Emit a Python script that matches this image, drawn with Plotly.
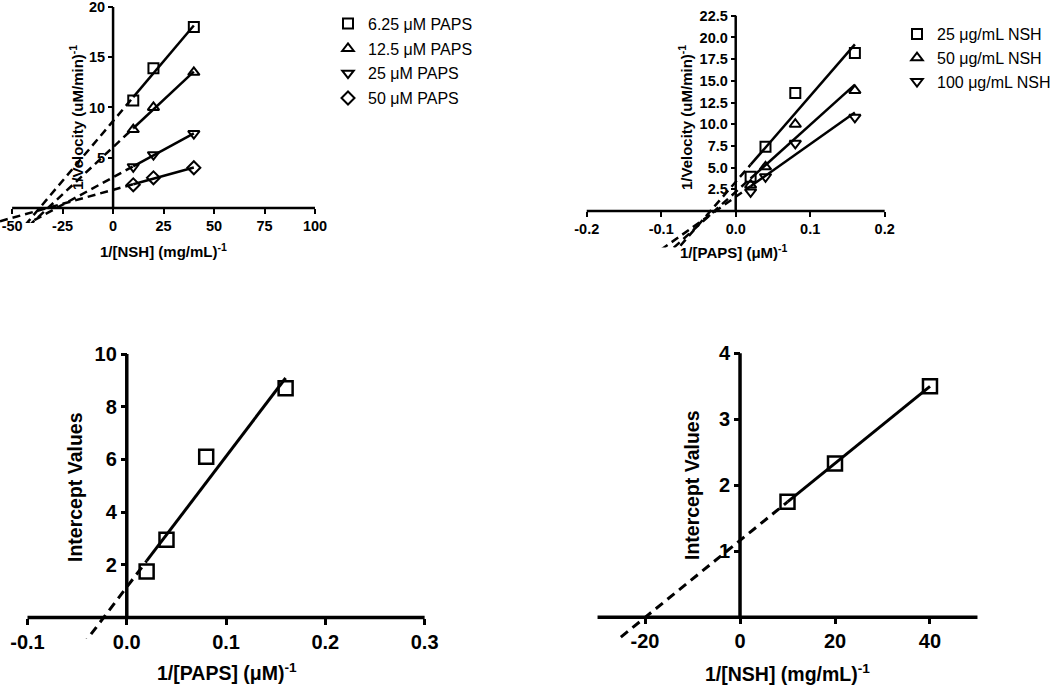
import numpy as np
import plotly.graph_objects as go

W, H = 1050, 691
FONT = "Liberation Sans, Arial, sans-serif"

# ---------------- data ----------------
# Panel A: 1/velocity vs 1/[NSH] at several PAPS concentrations
nsh_inv = [10, 20, 40]
a_labels = ["6.25 μM PAPS", "12.5 μM PAPS", "25 μM PAPS", "50 μM PAPS"]
a_vals = [
    [10.7, 13.9, 18.0],
    [7.8, 10.0, 13.5],
    [4.1, 5.3, 7.4],
    [2.3, 3.0, 4.0],
]
a_symbols = ["square-open", "triangle-up-open", "triangle-down-open", "diamond-open"]

# Panel B: 1/velocity vs 1/[PAPS] at several NSH concentrations
paps_inv = [0.02, 0.04, 0.08, 0.16]
b_labels = ["25 μg/mL NSH", "50 μg/mL NSH", "100 μg/mL NSH"]
b_vals = [
    [3.95, 7.4, 13.6, 18.2],
    [3.0, 5.1, 10.0, 13.9],
    [2.2, 3.95, 7.8, 10.8],
]
b_symbols = ["square-open", "triangle-up-open", "triangle-down-open"]

# Panel C: intercepts vs 1/[PAPS]
c_x = [0.02, 0.04, 0.08, 0.16]
c_y = [1.75, 2.95, 6.1, 8.7]

# Panel D: intercepts vs 1/[NSH]
d_x = [10, 20, 40]
d_y = [1.75, 2.33, 3.5]

# tick values / labels
a_xticks = [-50, -25, 0, 25, 50, 75, 100]
a_yticks = [5, 10, 15, 20]
b_xticks = [-0.2, -0.1, 0.0, 0.1, 0.2]
b_xtext = ["-0.2", "-0.1", "0.0", "0.1", "0.2"]
b_yticks = [2.5, 5.0, 7.5, 10.0, 12.5, 15.0, 17.5, 20.0, 22.5]
b_ytext = ["2.5", "5.0", "7.5", "10.0", "12.5", "15.0", "17.5", "20.0", "22.5"]
c_xticks = [-0.1, 0.0, 0.1, 0.2, 0.3]
c_xtext = ["-0.1", "0.0", "0.1", "0.2", "0.3"]
c_yticks = [2, 4, 6, 8, 10]
d_xticks = [-20, 0, 20, 40]
d_yticks = [1, 2, 3, 4]

# ---------------- geometry (pixels) ----------------
panels = {
    1: dict(xr=[-56, 101], yr=[-1.5, 20.3], px=[0, 317], py=[223, 4],
            xline=[-50, 100], yline=[0, 20], lw=2.5, tl=5, tw=2, tf=14.5,
            xt=a_xticks, xtt=[str(v) for v in a_xticks], yt=a_yticks, ytt=[str(v) for v in a_yticks]),
    2: dict(xr=[-0.201, 0.205], yr=[-4.2, 22.7], px=[586, 888.4], py=[247.5, 14],
            xline=[-0.2, 0.2], yline=[0, 22.5], lw=2.5, tl=5, tw=2, tf=14.5,
            xt=b_xticks, xtt=b_xtext, yt=b_yticks, ytt=b_ytext),
    3: dict(xr=[-0.1005, 0.302], yr=[-0.8, 10.1], px=[27, 426.6], py=[638.6, 351.4],
            xline=[-0.1, 0.3], yline=[0, 10], lw=3.5, tl=6, tw=3, tf=20,
            xt=c_xticks, xtt=c_xtext, yt=c_yticks, ytt=[str(v) for v in c_yticks]),
    4: dict(xr=[-30.2, 50.3], yr=[-0.33, 4.05], px=[596.6, 978.9], py=[639.1, 350],
            xline=[-30, 50], yline=[0, 4], lw=3.5, tl=6, tw=3, tf=20,
            xt=d_xticks, xtt=[str(v) for v in d_xticks], yt=d_yticks, ytt=[str(v) for v in d_yticks]),
}

fig = go.Figure()
layout = {}
shapes = []


def ref(i):
    return ("x" if i == 1 else f"x{i}"), ("y" if i == 1 else f"y{i}")


for i, s in panels.items():
    (xr0, xr1), (yr0, yr1) = s["xr"], s["yr"]
    (px0, px1), (py0, py1) = s["px"], s["py"]
    zero_px = px0 + (0 - xr0) / (xr1 - xr0) * (px1 - px0)
    zero_py = py0 + (0 - yr0) / (yr1 - yr0) * (py1 - py0)
    xn = "xaxis" if i == 1 else f"xaxis{i}"
    yn = "yaxis" if i == 1 else f"yaxis{i}"
    xref, yref = ref(i)
    tickfont = dict(family=FONT, size=s["tf"], color="black", weight="bold")
    layout[xn] = dict(domain=[px0 / W, px1 / W], range=s["xr"], anchor="free",
                      position=1 - zero_py / H, showgrid=False, zeroline=False,
                      showline=False, ticks="outside", ticklen=s["tl"], tickwidth=s["tw"],
                      tickcolor="black", tickvals=s["xt"], ticktext=s["xtt"],
                      tickfont=tickfont, fixedrange=True, automargin=False,
                      ticklabeloverflow="allow")
    layout[yn] = dict(domain=[1 - py0 / H, 1 - py1 / H], range=s["yr"], anchor="free",
                      position=zero_px / W, showgrid=False, zeroline=False,
                      showline=False, ticks="outside", ticklen=s["tl"], tickwidth=s["tw"],
                      tickcolor="black", tickvals=s["yt"], ticktext=s["ytt"],
                      tickfont=tickfont, fixedrange=True, automargin=False,
                      ticklabeloverflow="allow")
    shapes.append(dict(type="line", xref=xref, yref=yref, x0=s["xline"][0], x1=s["xline"][1],
                       y0=0, y1=0, line=dict(color="black", width=s["lw"])))
    shapes.append(dict(type="line", xref=xref, yref=yref, x0=0, x1=0,
                       y0=s["yline"][0], y1=s["yline"][1], line=dict(color="black", width=s["lw"])))


def add_fit(i, xs, ys, xmin, lw, dash):
    xref, yref = ref(i)
    m, b = np.polyfit(np.array(xs, float), np.array(ys, float), 1)
    xa, xb = min(xs), max(xs)
    fig.add_trace(go.Scatter(x=[xa, xb], y=[m * xa + b, m * xb + b], mode="lines",
                             line=dict(color="black", width=lw), showlegend=False,
                             hoverinfo="skip", xaxis=xref, yaxis=yref))
    fig.add_trace(go.Scatter(x=[xmin, xa], y=[m * xmin + b, m * xa + b], mode="lines",
                             line=dict(color="black", width=lw, dash=dash), showlegend=False,
                             hoverinfo="skip", xaxis=xref, yaxis=yref))


# Panel A
for vals in a_vals:
    add_fit(1, nsh_inv, vals, -56, 2.5, "8px,5px")
for lab, vals, sym in zip(a_labels, a_vals, a_symbols):
    fig.add_trace(go.Scatter(x=nsh_inv, y=vals, mode="markers", name=lab,
                             marker=dict(symbol=sym, size=10, color="black",
                                         line=dict(color="black", width=2)),
                             legend="legend", legendgroup=lab, xaxis="x", yaxis="y"))

# Panel B
for vals in b_vals:
    add_fit(2, paps_inv, vals, -0.2, 2.5, "8px,5px")
for lab, vals, sym in zip(b_labels, b_vals, b_symbols):
    fig.add_trace(go.Scatter(x=paps_inv, y=vals, mode="markers", name=lab,
                             marker=dict(symbol=sym, size=10, color="black",
                                         line=dict(color="black", width=2)),
                             legend="legend2", legendgroup=lab, xaxis="x2", yaxis="y2"))

# Panel C
add_fit(3, c_x, c_y, -0.1, 3, "9px,6px")
fig.add_trace(go.Scatter(x=c_x, y=c_y, mode="markers", showlegend=False,
                         marker=dict(symbol="square-open", size=14, color="black",
                                     line=dict(color="black", width=2.5)),
                         xaxis="x3", yaxis="y3"))

# Panel D
add_fit(4, d_x, d_y, -30, 3, "9px,6px")
fig.add_trace(go.Scatter(x=d_x, y=d_y, mode="markers", showlegend=False,
                         marker=dict(symbol="square-open", size=14, color="black",
                                     line=dict(color="black", width=2.5)),
                         xaxis="x4", yaxis="y4"))


# axis titles
def title(text, xpx, ypx, size, angle=0):
    return dict(text=text, x=xpx / W, y=1 - ypx / H, xref="paper", yref="paper",
                xanchor="center", yanchor="middle", showarrow=False, textangle=angle,
                font=dict(family=FONT, size=size, color="black", weight="bold"))


annotations = [
    title("1/Velocity (uM/min)<sup>-1</sup>", 76, 118, 15, -90),
    title("1/[NSH] (mg/mL)<sup>-1</sup>", 163, 250, 15),
    title("1/Velocity (uM/min)<sup>-1</sup>", 685, 118, 15, -90),
    title("1/[PAPS] (μM)<sup>-1</sup>", 734, 251, 15),
    title("Intercept Values", 75, 487, 19.5, -90),
    title("1/[PAPS] (μM)<sup>-1</sup>", 227, 672, 19.5),
    title("Intercept Values", 692, 485, 19.5, -90),
    title("1/[NSH] (mg/mL)<sup>-1</sup>", 787, 673, 19.5),
]

legend_common = dict(font=dict(family=FONT, size=16, color="black"), bgcolor="rgba(0,0,0,0)",
                     borderwidth=0, xanchor="left", yanchor="top",
                     itemclick=False, itemdoubleclick=False)

fig.update_layout(
    width=W, height=H,
    margin=dict(l=0, r=0, t=0, b=0, autoexpand=False),
    paper_bgcolor="white", plot_bgcolor="rgba(0,0,0,0)",
    font=dict(family=FONT, color="black"),
    shapes=shapes,
    annotations=annotations,
    legend=dict(x=328 / W, y=1 - 6.7 / H, tracegroupgap=1, **legend_common),
    legend2=dict(x=897 / W, y=1 - 17 / H, tracegroupgap=0, **legend_common),
    hovermode=False,
    **layout,
)

fig.write_html("out.html", config={"displayModeBar": False},
               post_script="document.body.style.margin='0';")
